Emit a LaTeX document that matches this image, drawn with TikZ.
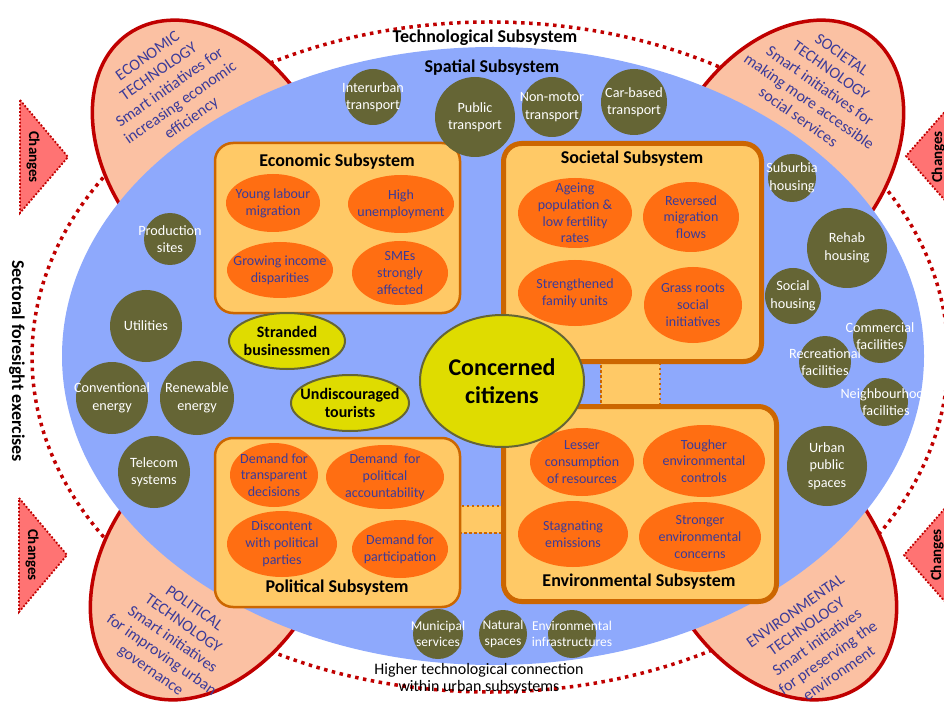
\documentclass[tikz,border=0pt]{standalone}
\usepackage{fontspec}
\setmainfont{Carlito}
\usetikzlibrary{shapes.geometric}
\definecolor{spatialblue}{HTML}{8EA9FC}
\definecolor{techfill}{HTML}{FBC1A3}
\definecolor{darkred}{HTML}{C00000}
\definecolor{trifill}{HTML}{FF7373}
\definecolor{boxfill}{HTML}{FFC966}
\definecolor{boxline}{HTML}{CC6600}
\definecolor{issueorange}{HTML}{FF6E12}
\definecolor{issuetext}{HTML}{3B3B99}
\definecolor{olivec}{HTML}{656535}
\definecolor{actoryellow}{HTML}{DFDC00}
\newcommand{\issueat}[5]{\node[issueshape, minimum width=#3, minimum height=#4] (#1) at (#2) {};
  \node[issuetxt] (#1-t) at (#1.center) {#5};}
\newcommand{\infraat}[4]{\node[infrashape, minimum size=#3] (#1) at (#2) {};
  \node[infratxt] (#1-t) at (#1.center) {#4};}
\begin{document}
\begin{tikzpicture}[x=1pt,y=-1pt,
  subbox/.style={draw=boxline, fill=boxfill, rounded corners=18pt, line width=2.5pt, inner sep=0pt},
  thickbox/.style={subbox, line width=5pt},
  issueshape/.style={ellipse, fill=issueorange, inner sep=0pt},
  issuetxt/.style={text=issuetext, align=center, inner sep=0pt, font=\fontsize{14}{16.8}\selectfont},
  infrashape/.style={circle, fill=olivec, inner sep=0pt},
  infratxt/.style={text=white, align=center, inner sep=0pt, font=\fontsize{14.2}{17.5}\selectfont},
  smallinfra/.style={font=\fontsize{13.5}{16.5}\selectfont},
  actorshape/.style={ellipse, fill=actoryellow, draw=olivec, line width=2pt, inner sep=0pt},
  actortxt/.style={align=center, inner sep=0pt, font=\bfseries\fontsize{16}{18}\selectfont},
  sstitle/.style={font=\bfseries\fontsize{18}{21}\selectfont, inner sep=0pt},
  techtext/.style={text=issuetext, align=center, inner sep=0pt, font=\fontsize{16}{19}\selectfont},
  techell/.style={fill=techfill, draw=darkred, line width=3.5pt},
  outerdots/.style={draw=darkred, line width=3.5pt, dash pattern=on 3.5pt off 4.5pt},
  changetri/.style={fill=trifill, draw=darkred, line width=1.8pt, dash pattern=on 1.8pt off 1.8pt},
  changetxt/.style={font=\bfseries\fontsize{15}{18}\selectfont, inner sep=0pt},
  linkbox/.style={rectangle, fill=boxfill, draw=boxline, line width=2.5pt, dash pattern=on 2.5pt off 2.5pt, inner sep=0pt}
]
\useasboundingbox (0,0) rectangle (944,708);
\fill[white] (0,0) rectangle (944,708);

% technological subsystem (outer dotted ellipse)
\draw[outerdots] (490,357) ellipse [x radius=458pt, y radius=335pt];

% technology ellipses
\begin{scope}[shift={(214,157)}, rotate=35]
  \draw[techell] (0,0) ellipse [x radius=105pt, y radius=150pt];
\end{scope}
\begin{scope}[shift={(782,157)}, rotate=-35]
  \draw[techell] (0,0) ellipse [x radius=105pt, y radius=150pt];
\end{scope}
\begin{scope}[shift={(212,563)}, rotate=-35]
  \draw[techell] (0,0) ellipse [x radius=105pt, y radius=150pt];
\end{scope}
\begin{scope}[shift={(775,563)}, rotate=35]
  \draw[techell] (0,0) ellipse [x radius=105pt, y radius=150pt];
\end{scope}

% spatial subsystem
\fill[spatialblue] (493,356) ellipse [x radius=431pt, y radius=309pt];

% technology texts
\node[techtext, rotate=35] (ecotech) at (170,88) {ECONOMIC\\TECHNOLOGY\\Smart initiatives for\\increasing economic\\efficiency};
\node[techtext, rotate=-35] (soctech) at (820,86) {SOCIETAL\\TECHNOLOGY\\Smart initiatives for\\making more accessible\\social services};
\node[techtext, rotate=-35] (poltech) at (172,640) {POLITICAL\\TECHNOLOGY\\Smart initiatives\\for improving urban\\governance};
\node[techtext, rotate=35] (envtech) at (817,642) {ENVIRONMENTAL\\TECHNOLOGY\\Smart initiatives\\for preserving the\\environment};

% changes triangles
\draw[changetri] (20,100) -- (68,157) -- (20,213) -- cycle;
\node[changetxt, rotate=-90] (chg1) at (33,157) {Changes};
\draw[changetri] (19,498) -- (67,555) -- (19,612) -- cycle;
\node[changetxt, rotate=-90] (chg2) at (32,555) {Changes};
\draw[changetri] (956,99) -- (906,156) -- (956,213) -- cycle;
\node[changetxt, rotate=90] (chg3) at (938,157) {Changes};
\draw[changetri] (954,498) -- (904,555) -- (954,612) -- cycle;
\node[changetxt, rotate=90] (chg4) at (937,555) {Changes};

% side and bottom texts
\node[sstitle] (techsub) at (485,38) {Technological Subsystem};
\node[sstitle] (spatsub) at (492,68) {Spatial Subsystem};
\node[sstitle, rotate=-90] (sector) at (17,361) {Sectoral foresight exercises};
\node[align=center, inner sep=0pt, font=\fontsize{16}{17}\selectfont] (higher) at (479,679) {Higher technological connection\\within urban subsystems};

% links between subsystems
\node[linkbox, minimum width=59, minimum height=44] (linkse) at (630.5,384) {};
\node[linkbox, minimum width=44, minimum height=27] (linkpe) at (481,519.5) {};

% subsystem boxes
\node[subbox, minimum width=245, minimum height=170] (econbox) at (337.5,228) {};
\node[thickbox, minimum width=258, minimum height=218] (socbox) at (632.5,252.5) {};
\node[subbox, minimum width=245, minimum height=169] (polbox) at (337.5,522.5) {};
\node[thickbox, minimum width=273, minimum height=195] (envbox) at (640,504) {};

\node[sstitle] (econtitle) at (337,162) {Economic Subsystem};
\node[sstitle] (soctitle) at (632,159) {Societal Subsystem};
\node[sstitle] (poltitle) at (337,588) {Political Subsystem};
\node[sstitle] (envtitle) at (639,582) {Environmental Subsystem};

% economic issues
\issueat{ec1}{273,203}{94}{58}{Young labour\\migration}
\issueat{ec2}{401,204}{106}{58}{High\\unemployment}
\issueat{ec3}{280,270}{106}{56}{Growing income\\disparities}
\issueat{ec4}{400,273}{96}{64}{SMEs\\strongly\\affected}
% societal issues
\issueat{so1}{575,213}{114}{70}{Ageing\\population \&\\low fertility\\rates}
\issueat{so2}{691,217}{96}{70}{Reversed\\migration\\flows}
\issueat{so3}{575,293}{114}{66}{Strengthened\\family units}
\issueat{so4}{693,305}{98}{76}{Grass roots\\social\\initiatives}
% political issues
\issueat{po1}{274,475}{88}{64}{Demand for\\transparent\\decisions}
\issueat{po2}{385,477}{118}{64}{Demand~ for\\political\\accountability}
\issueat{po3}{282,544}{110}{66}{Discontent\\with political\\parties}
\issueat{po4}{400,549}{96}{58}{Demand for\\participation}
% environmental issues
\issueat{en1}{582,462}{104}{68}{Lesser\\consumption\\of resources}
\issueat{en2}{704,461}{122}{72}{Tougher\\environmental\\controls}
\issueat{en3}{573,534}{110}{66}{Stagnating\\emissions}
\issueat{en4}{700,537}{122}{70}{Stronger\\environmental\\concerns}

% actors
\node[actorshape, minimum width=116, minimum height=56] (stranded) at (287,341) {};
\node[actortxt] (stranded-t) at (stranded.center) {Stranded\\businessmen};
\node[actorshape, minimum width=118, minimum height=56] (tourists) at (350,403) {};
\node[actortxt, font=\bfseries\fontsize{16}{17.5}\selectfont] (tourists-t) at (tourists.center) {Undiscouraged\\tourists};
\node[actorshape, minimum width=164, minimum height=132] (citizens) at (502,381) {};
\node[actortxt, font=\bfseries\fontsize{24}{28}\selectfont] (citizens-t) at (citizens.center) {Concerned\\citizens};

% spatial elements
\infraat{interurban}{373,97}{56}{Interurban\\transport}
\infraat{public}{475,117}{80}{Public\\transport}
\infraat{nonmotor}{552,107}{60}{Non-motor\\transport}
\infraat{carbased}{634,102}{66}{Car-based\\transport}
\infraat{suburbia}{792,178}{48}{Suburbia\\housing}
\infraat{rehab}{847,248}{80}{Rehab\\housing}
\infraat{socialh}{793,296}{56}{Social\\housing}
\infraat{commercial}{880,336}{54}{Commercial\\facilities}
\infraat{recreational}{825,362}{52}{Recreational\\facilities}
\node[infrashape, minimum size=48] (neighbour) at (884,402) {};
\node[infratxt] (neighbour-t) at (886,402) {Neighbourhood\\facilities};
\infraat{urbanpublic}{827,466}{80}{Urban\\public\\spaces}
\infraat{production}{170,239}{52}{Production\\sites}
\infraat{utilities}{146,326}{72}{Utilities}
\infraat{conventional}{112,398}{72}{Conventional\\energy}
\infraat{renewable}{197,398}{74}{Renewable\\energy}
\infraat{telecom}{154,472}{72}{Telecom\\systems}
\node[infrashape, minimum size=50] (municipal) at (438,634) {};
\node[infratxt, smallinfra] (municipal-t) at (municipal.center) {Municipal\\services};
\node[infrashape, minimum size=48] (natural) at (503,634) {};
\node[infratxt, smallinfra] (natural-t) at (natural.center) {Natural\\spaces};
\node[infrashape, minimum size=48] (envinfra) at (572,634) {};
\node[infratxt, smallinfra] (envinfra-t) at (envinfra.center) {Environmental\\infrastructures};
\end{tikzpicture}
\end{document}
